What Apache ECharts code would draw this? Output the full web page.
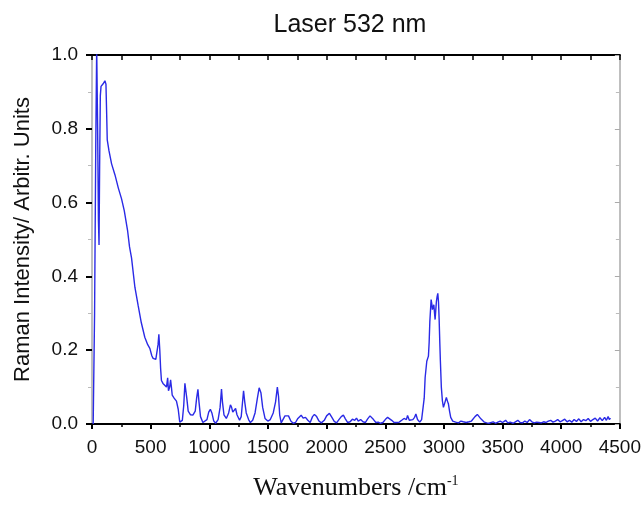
<!DOCTYPE html>
<html>
<head>
<meta charset="utf-8">
<script src="https://cdn.jsdelivr.net/npm/echarts@6/dist/echarts.min.js"></script>
<style>
  html, body { margin: 0; padding: 0; background: #fff; }
  #chart { width: 644px; height: 506px; }
</style>
</head>
<body>
<div id="chart"></div>
<script>
// wavenumbers (cm-1) and intensities
const wavenumbers = [
  10, 22, 32, 40, 48, 55, 60, 65, 71, 77, 95, 110, 119, 125, 130, 145, 167, 196, 224, 252,
  275, 303, 320, 337, 366, 394, 420, 450, 475, 493, 510, 521, 544, 556, 563, 570, 578, 585, 592, 605,
  620, 635, 645, 652, 662, 670, 677, 684, 700, 720, 735, 748, 757, 770, 782, 792, 799, 808, 820, 840,
  860, 880, 892, 903, 912, 925, 945, 962, 980, 995, 1009, 1022, 1038, 1054, 1075, 1092, 1104, 1112, 1125, 1145,
  1165, 1180, 1190, 1200, 1210, 1224, 1236, 1258, 1272, 1282, 1292, 1302, 1315, 1335, 1350, 1370, 1390, 1410, 1425, 1440,
  1455, 1475, 1499, 1520, 1545, 1565, 1580, 1590, 1600, 1613, 1630, 1645, 1660, 1675, 1695, 1715, 1735, 1755, 1770, 1783,
  1800, 1820, 1840, 1860, 1880, 1896, 1915, 1935, 1955, 1980, 2000, 2024, 2045, 2065, 2085, 2105, 2125, 2143, 2160, 2180,
  2200, 2220, 2240, 2255, 2270, 2290, 2310, 2330, 2350, 2370, 2380, 2400, 2420, 2440, 2460, 2480, 2500, 2520, 2535, 2555,
  2575, 2600, 2619, 2640, 2660, 2680, 2690, 2705, 2718, 2735, 2750, 2761, 2775, 2794, 2810, 2820, 2832, 2840, 2854, 2868,
  2874, 2880, 2886, 2891, 2897, 2902, 2908, 2914, 2920, 2925, 2931, 2936, 2942, 2948, 2954, 2959, 2965, 2970, 2978, 2987,
  2996, 3002, 3010, 3021, 3030, 3038, 3048, 3058, 3075, 3100, 3125, 3145, 3165, 3190, 3214, 3235, 3250, 3265, 3285, 3300,
  3315, 3327, 3345, 3365, 3384, 3400, 3420, 3440, 3460, 3480, 3500, 3526, 3545, 3565, 3590, 3610, 3630, 3650, 3670, 3690,
  3710, 3730, 3750, 3770, 3790, 3810, 3830, 3850, 3870, 3890, 3910, 3930, 3950, 3970, 3990, 4010, 4030, 4050, 4070, 4090,
  4110, 4130, 4150, 4170, 4190, 4210, 4230, 4250, 4270, 4290, 4310, 4330, 4350, 4370, 4385, 4400, 4410, 4420
];
const intensity = [
  0, 0.3, 0.75, 1.02, 0.8, 0.55, 0.485, 0.7, 0.89, 0.915, 0.922, 0.93, 0.921, 0.84, 0.77, 0.74, 0.705, 0.675, 0.64, 0.61,
  0.578, 0.525, 0.48, 0.45, 0.37, 0.32, 0.275, 0.235, 0.215, 0.205, 0.185, 0.178, 0.175, 0.18, 0.215, 0.243, 0.2, 0.15, 0.118, 0.11,
  0.105, 0.1, 0.125, 0.09, 0.1, 0.12, 0.1, 0.078, 0.07, 0.062, 0.04, 0.005, 0, 0.01, 0.05, 0.11, 0.115, 0.07, 0.035, 0.025,
  0.024, 0.035, 0.07, 0.094, 0.06, 0.02, 0.004, 0.001, 0.012, 0.032, 0.04, 0.03, 0.008, 0.002, 0.012, 0.045, 0.095, 0.06, 0.025, 0.015,
  0.03, 0.052, 0.045, 0.032, 0.03, 0.042, 0.025, 0.01, 0.02, 0.055, 0.09, 0.06, 0.03, 0.012, 0.004, 0.01, 0.03, 0.07, 0.098, 0.085,
  0.045, 0.015, 0.008, 0.012, 0.03, 0.06, 0.1, 0.075, 0.025, 0.003, 0.008, 0.022, 0.027, 0.022, 0.008, 0.002, 0.004, 0.015, 0.02, 0.024,
  0.016, 0.018, 0.01, 0.004, 0.02, 0.026, 0.02, 0.008, 0.003, 0.01, 0.022, 0.029, 0.018, 0.007, 0.003, 0.012, 0.02, 0.024, 0.014, 0.004,
  0.006, 0.013, 0.01, 0.016, 0.008, 0.012, 0.006, 0.004, 0.014, 0.022, 0.024, 0.012, 0.004, 0.005, 0.002, 0.004, 0.012, 0.018, 0.021, 0.01,
  0.004, 0.004, 0.005, 0.01, 0.015, 0.012, 0.023, 0.01, 0.005, 0.012, 0.018, 0.027, 0.012, 0.005, 0.012, 0.015, 0.07, 0.126, 0.17, 0.184,
  0.22, 0.278, 0.31, 0.337, 0.325, 0.31, 0.315, 0.323, 0.3, 0.283, 0.31, 0.332, 0.345, 0.354, 0.33, 0.287, 0.22, 0.17, 0.1, 0.063,
  0.045, 0.05, 0.06, 0.072, 0.062, 0.055, 0.035, 0.018, 0.008, 0.005, 0.003, 0.008, 0.006, 0.004, 0.006, 0.008, 0.012, 0.02, 0.026, 0.022,
  0.014, 0.01, 0.005, 0.003, 0.002, 0.004, 0.006, 0.002, 0.005, 0.008, 0.004, 0.01, 0.003, 0.005, 0.002, 0.006, 0.01, 0.004, 0.003, 0.008,
  0.004, 0.012, 0.006, 0.003, 0.005, 0.004, 0.003, 0.006, 0.004, 0.008, 0.01, 0.005, 0.008, 0.012, 0.006, 0.009, 0.013, 0.006, 0.01, 0.005,
  0.012, 0.007, 0.014, 0.006, 0.012, 0.009, 0.015, 0.007, 0.012, 0.016, 0.008, 0.017, 0.009, 0.018, 0.01, 0.02, 0.012, 0.016
];

const chart = echarts.init(document.getElementById("chart"));

const sans = "Liberation Sans, Arial, sans-serif";

const option = {
  animation: false,
  title: {
    text: "Laser 532 nm",
    left: 345,
    textAlign: "center",
    top: 8,
    textStyle: { fontFamily: sans, fontSize: 25, fontWeight: "normal", color: "#111" },
  },
  grid: { left: 92, right: 23, top: 55, bottom: 79 },
  xAxis: [
    {
      type: "value",
      position: "bottom",
      min: 0,
      max: 4500,
      interval: 500,
      name: "{a|Wavenumbers /cm}{b|-1}",
      nameLocation: "middle",
      nameGap: 50,
      nameTextStyle: {
        rich: {
          a: { fontFamily: "Liberation Serif, Times New Roman, serif", fontSize: 26, color: "#111", lineHeight: 28 },
          b: { fontFamily: "Liberation Serif, Times New Roman, serif", fontSize: 14, color: "#111", verticalAlign: "top", lineHeight: 28 },
        },
      },
      axisLine: { show: true, onZero: false, lineStyle: { color: "#000", width: 2 } },
      axisTick: { show: true, inside: false, length: 5, lineStyle: { color: "#000", width: 2 } },
      minorTick: { show: true, splitNumber: 2, length: 3, lineStyle: { color: "#000", width: 1.5 } },
      axisLabel: { fontFamily: sans, fontSize: 19, color: "#111", margin: 14, formatter: (v) => String(v) },
      splitLine: { show: false },
    },
    {
      type: "value",
      position: "top",
      min: 0,
      max: 4500,
      interval: 500,
      axisLine: { show: true, onZero: false, lineStyle: { color: "#000", width: 2 } },
      axisTick: { show: true, inside: true, length: 5, lineStyle: { color: "#000", width: 1.5 } },
      minorTick: { show: true, splitNumber: 2, length: 5, lineStyle: { color: "#000", width: 1.5 } },
      axisLabel: { show: false },
      splitLine: { show: false },
    },
  ],
  yAxis: [
    {
      type: "value",
      position: "left",
      min: 0,
      max: 1,
      interval: 0.2,
      name: "Raman Intensity/ Arbitr. Units",
      nameLocation: "middle",
      nameGap: 58,
      nameTextStyle: { fontFamily: sans, fontSize: 22, color: "#111" },
      axisLine: { show: true, onZero: false, lineStyle: { color: "#aaa", width: 1.5 } },
      axisTick: { show: true, inside: false, length: 6, lineStyle: { color: "#000", width: 2 } },
      minorTick: { show: true, splitNumber: 2, length: 4, lineStyle: { color: "#bbb", width: 1 } },
      axisLabel: {
        fontFamily: sans,
        fontSize: 19,
        color: "#111",
        margin: 14,
        formatter: (v) => v.toFixed(1),
      },
      splitLine: { show: false },
    },
    {
      type: "value",
      position: "right",
      min: 0,
      max: 1,
      interval: 0.2,
      axisLine: { show: true, onZero: false, lineStyle: { color: "#aaa", width: 1.5 } },
      axisTick: { show: true, inside: true, length: 5, lineStyle: { color: "#aaa", width: 1 } },
      minorTick: { show: true, splitNumber: 2, length: 4, lineStyle: { color: "#bbb", width: 1 } },
      axisLabel: { show: false },
      splitLine: { show: false },
    },
  ],
  series: [
    {
      type: "line",
      xAxisIndex: 0,
      yAxisIndex: 0,
      data: wavenumbers.map((w, i) => [w, intensity[i]]),
      showSymbol: false,
      clip: true,
      lineStyle: { color: "#2a2ae6", width: 1.4 },
    },
  ],
};

chart.setOption(option);
</script>
</body>
</html>
